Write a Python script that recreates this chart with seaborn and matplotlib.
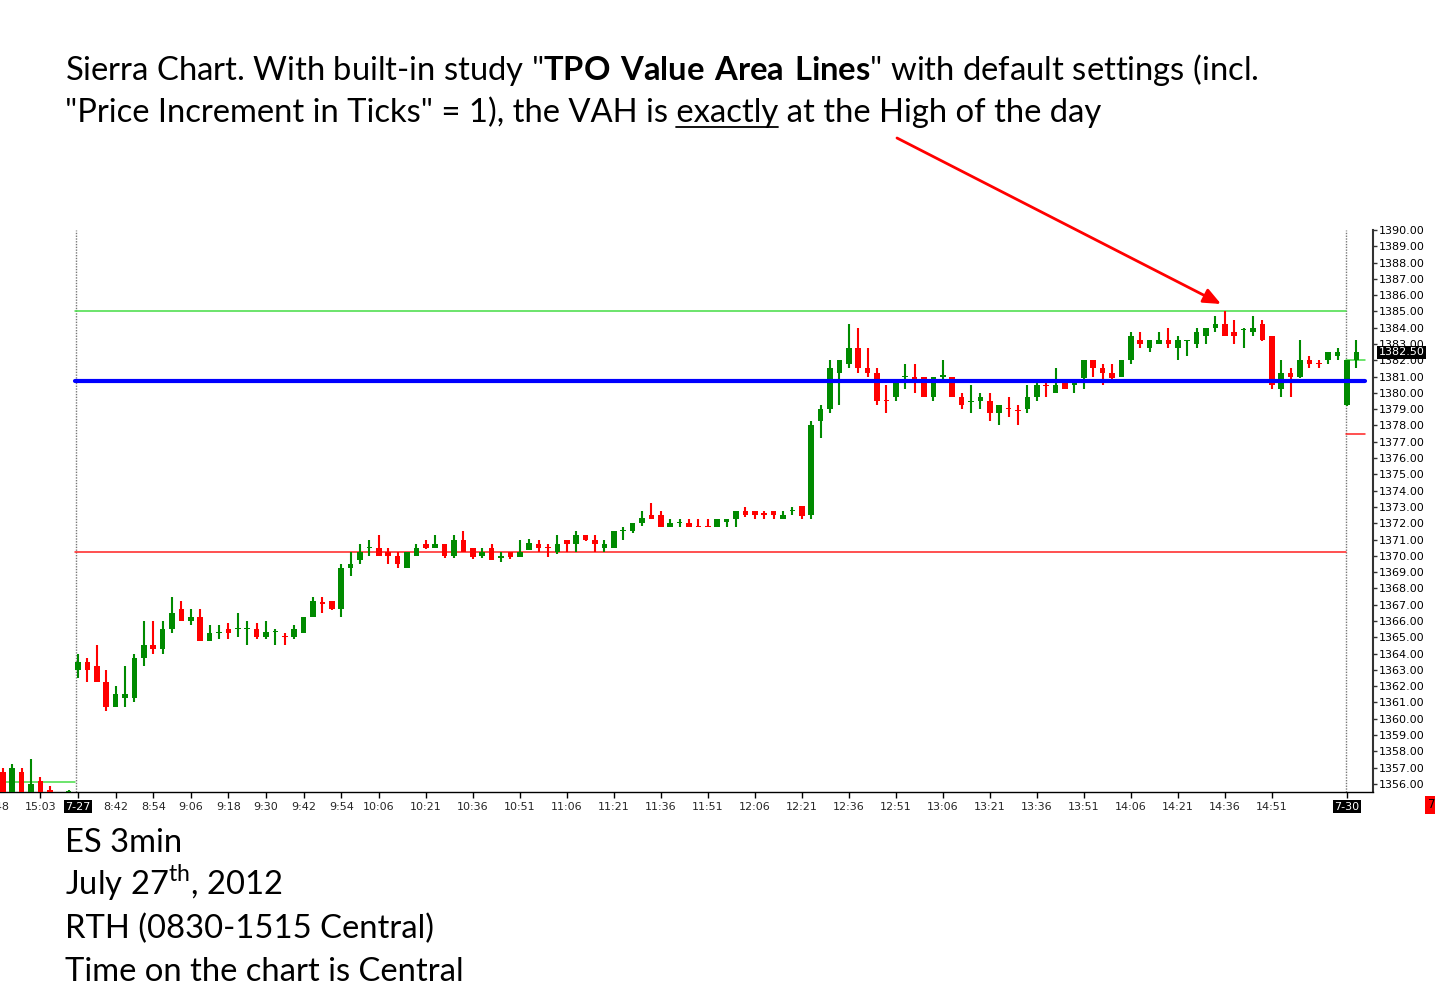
import numpy as np
import pandas as pd
import matplotlib
matplotlib.use("Agg")
import matplotlib.pyplot as plt
from matplotlib.ticker import FormatStrFormatter
from matplotlib.lines import Line2D
import seaborn as sns

# ---------------- data (ES 3-min bars) ----------------
bar_index = [-8, -7, -6, -5, -4, -3, -1] + list(range(0, 137))
opens = [1356.75, 1355.0, 1356.75, 1355.0, 1356.15, 1355.6, 1355.0,
         1363.0, 1363.5, 1363.25, 1362.25, 1360.75, 1361.25, 1361.25, 1363.75, 1364.5, 1364.25,
         1365.5, 1366.75, 1366.0, 1366.25, 1364.75, 1365.25, 1365.5, 1365.5, 1365.5, 1365.5,
         1365.0, 1365.3, 1365.05, 1365.0, 1365.25, 1366.25, 1367.15, 1367.25, 1366.75, 1369.25,
         1369.75, 1370.45, 1370.5, 1370.25, 1370.0, 1369.25, 1370.0, 1370.75, 1370.5, 1370.75,
         1370.0, 1371.0, 1370.5, 1370.0, 1370.5, 1369.85, 1370.25, 1369.95, 1370.35, 1370.75,
         1370.5, 1370.25, 1371.0, 1370.75, 1371.25, 1371.0, 1370.5, 1370.5, 1371.5, 1371.5,
         1372.0, 1372.5, 1372.5, 1371.75, 1372.0, 1372.0, 1371.85, 1371.85, 1371.75, 1372.1,
         1372.25, 1372.75, 1372.75, 1372.6, 1372.75, 1372.25, 1372.75, 1373.05, 1372.5, 1378.25,
         1379.0, 1381.25, 1381.75, 1382.75, 1381.5, 1381.25, 1379.55, 1379.75, 1380.95, 1381.0,
         1381.0, 1379.75, 1381.0, 1381.0, 1379.75, 1379.45, 1379.5, 1379.5, 1378.75, 1379.05,
         1378.95, 1379.0, 1379.75, 1380.5, 1380.0, 1380.75, 1380.5, 1380.9, 1382.0, 1381.5,
         1381.25, 1381.0, 1382.0, 1383.25, 1382.75, 1383.0, 1383.25, 1382.75, 1383.2, 1383.0,
         1383.5, 1384.0, 1384.25, 1383.75, 1383.85, 1383.75, 1384.25, 1383.5, 1380.25, 1381.25,
         1381.0, 1382.0, 1381.85, 1382.0, 1382.25, 1379.25, 1382.0]
highs = [1357.0, 1357.25, 1357.0, 1357.5, 1356.4, 1355.85, 1355.6,
         1364.0, 1363.75, 1364.5, 1363.0, 1362.0, 1363.25, 1364.0, 1366.0, 1366.0, 1366.0,
         1367.5, 1367.25, 1366.75, 1366.75, 1365.75, 1365.75, 1365.9, 1366.5, 1366.0, 1365.9,
         1366.0, 1365.5, 1365.25, 1365.75, 1366.25, 1367.5, 1367.5, 1367.25, 1369.5, 1370.25,
         1370.75, 1371.0, 1371.25, 1370.5, 1370.25, 1370.25, 1370.75, 1371.0, 1371.25, 1370.75,
         1371.25, 1371.5, 1370.5, 1370.5, 1370.75, 1370.25, 1370.25, 1371.0, 1371.05, 1371.0,
         1370.75, 1371.25, 1371.0, 1371.5, 1371.25, 1371.25, 1371.0, 1371.5, 1371.75, 1372.0,
         1372.75, 1373.25, 1372.75, 1372.25, 1372.25, 1372.25, 1372.25, 1372.25, 1372.25, 1372.25,
         1372.75, 1373.0, 1372.75, 1372.75, 1372.75, 1372.75, 1373.0, 1373.05, 1378.25, 1379.25,
         1382.0, 1382.0, 1384.25, 1384.0, 1382.75, 1381.5, 1380.5, 1380.75, 1381.75, 1381.75,
         1381.0, 1381.0, 1382.0, 1381.0, 1380.0, 1380.5, 1380.0, 1380.0, 1379.25, 1379.75,
         1379.25, 1380.5, 1380.75, 1380.75, 1381.5, 1380.75, 1380.75, 1382.0, 1382.0, 1381.75,
         1381.75, 1382.0, 1383.75, 1383.75, 1383.25, 1383.75, 1384.0, 1383.5, 1383.25, 1384.0,
         1384.0, 1384.75, 1385.0, 1384.5, 1384.0, 1384.75, 1384.5, 1383.5, 1382.0, 1381.5,
         1383.25, 1382.25, 1382.0, 1382.5, 1382.75, 1382.0, 1383.25]
lows = [1354.5, 1354.5, 1354.5, 1354.5, 1354.5, 1354.5, 1354.5,
        1362.5, 1362.25, 1362.25, 1360.5, 1360.75, 1360.75, 1361.0, 1363.25, 1364.0, 1364.0,
        1365.25, 1366.0, 1365.75, 1364.75, 1364.75, 1364.9, 1364.9, 1365.0, 1364.5, 1364.9,
        1364.9, 1364.5, 1364.5, 1364.9, 1365.25, 1366.25, 1366.5, 1366.7, 1366.25, 1368.75,
        1369.5, 1370.0, 1370.0, 1369.5, 1369.25, 1369.25, 1370.0, 1370.4, 1370.5, 1369.85,
        1369.85, 1370.25, 1369.8, 1369.85, 1369.75, 1369.6, 1369.8, 1369.9, 1370.35, 1370.25,
        1369.9, 1370.1, 1370.25, 1370.25, 1370.9, 1370.25, 1370.25, 1370.5, 1371.0, 1371.4,
        1371.85, 1372.25, 1371.75, 1371.75, 1371.75, 1371.75, 1371.75, 1371.75, 1371.75, 1371.75,
        1371.75, 1372.4, 1372.25, 1372.25, 1372.25, 1372.25, 1372.5, 1372.25, 1372.25, 1377.25,
        1378.75, 1379.25, 1381.5, 1381.25, 1381.0, 1379.25, 1378.75, 1379.5, 1380.25, 1380.0,
        1379.75, 1379.5, 1380.75, 1379.75, 1379.0, 1378.75, 1379.0, 1378.25, 1378.0, 1378.5,
        1378.0, 1378.75, 1379.5, 1379.75, 1380.0, 1380.25, 1380.0, 1380.25, 1381.0, 1380.5,
        1380.75, 1381.0, 1381.75, 1382.75, 1382.5, 1383.0, 1382.75, 1382.0, 1382.25, 1382.75,
        1383.0, 1383.75, 1383.5, 1383.0, 1382.75, 1383.5, 1383.2, 1380.25, 1379.75, 1379.75,
        1380.9, 1381.5, 1381.5, 1381.75, 1382.0, 1379.2, 1381.5]
closes = [1355.0, 1357.0, 1355.0, 1356.0, 1355.0, 1355.0, 1355.55,
          1363.5, 1363.0, 1362.25, 1360.75, 1361.5, 1361.5, 1363.75, 1364.5, 1364.25, 1365.5,
          1366.5, 1366.0, 1366.25, 1364.75, 1365.25, 1365.3, 1365.25, 1365.55, 1365.55, 1365.0,
          1365.3, 1365.35, 1365.0, 1365.5, 1366.25, 1367.25, 1367.05, 1366.75, 1369.25, 1369.5,
          1370.25, 1370.5, 1370.0, 1370.0, 1369.5, 1370.25, 1370.5, 1370.5, 1370.75, 1370.0,
          1371.0, 1370.25, 1369.95, 1370.25, 1369.75, 1370.0, 1369.95, 1370.25, 1370.8, 1370.5,
          1370.45, 1370.75, 1370.75, 1371.25, 1371.0, 1370.75, 1370.75, 1371.5, 1371.55, 1372.0,
          1372.35, 1372.25, 1371.75, 1372.0, 1372.05, 1371.75, 1371.75, 1371.75, 1372.25, 1372.25,
          1372.75, 1372.5, 1372.5, 1372.5, 1372.5, 1372.5, 1372.8, 1372.45, 1378.0, 1379.0,
          1381.5, 1382.0, 1382.75, 1381.5, 1381.25, 1379.5, 1379.5, 1380.75, 1381.0, 1380.75,
          1379.75, 1381.0, 1381.1, 1379.75, 1379.25, 1379.5, 1379.75, 1378.75, 1379.25, 1379.0,
          1378.9, 1379.75, 1380.5, 1380.4, 1380.5, 1380.25, 1380.6, 1382.0, 1381.5, 1381.25,
          1380.9, 1382.0, 1383.5, 1383.0, 1383.25, 1383.25, 1383.0, 1383.25, 1383.25, 1383.75,
          1384.0, 1384.25, 1383.5, 1383.5, 1383.9, 1384.0, 1383.25, 1380.5, 1381.25, 1381.0,
          1382.0, 1381.75, 1381.75, 1382.5, 1382.5, 1382.0, 1382.5]

xtick_pos = [-4, 0, 4, 8, 12, 16, 20, 24, 28, 32, 37, 42, 47, 52, 57, 62, 67, 72, 77,
             82, 87, 92, 97, 102, 107, 112, 117, 122, 127, 135]
xtick_labels = ['15:03', '7-27', '8:42', '8:54', '9:06', '9:18', '9:30', '9:42', '9:54',
                '10:06', '10:21', '10:36', '10:51', '11:06', '11:21', '11:36', '11:51',
                '12:06', '12:21', '12:36', '12:51', '13:06', '13:21', '13:36', '13:51',
                '14:06', '14:21', '14:36', '14:51', '7-30']
ytick_values = list(range(1356, 1391))

vah_level = 1385.0
poc_level = 1380.75
val_level = 1370.25
prev_vah_level = 1356.1
next_vah_level = 1382.0
next_val_level = 1377.5
last_price = 1382.50

# ---------------- style ----------------
sns.set_style("white")
plt.rcParams['font.family'] = ['DejaVu Sans']
plt.rcParams['mathtext.fontset'] = 'custom'
plt.rcParams['mathtext.rm'] = 'Lato'
plt.rcParams['mathtext.bf'] = 'Lato:bold'

W, H = 1435, 1001
fig = plt.figure(figsize=(W / 100, H / 100), dpi=100)
fig.patch.set_facecolor('white')

ax_top, ax_bot, ax_right = 230, 792, 1373
ax = fig.add_axes([0, 1 - ax_bot / H, ax_right / W, (ax_bot - ax_top) / H])
ax.set_facecolor('white')

px_per_bar = 9.4
x0_px = 78
ax.set_xlim(-x0_px / px_per_bar, (ax_right - x0_px) / px_per_bar)
px_per_pt = 16.34
ax.set_ylim(1385 - (ax_bot - 310) / px_per_pt, 1385 + (310 - ax_top) / px_per_pt)

df = pd.DataFrame({'i': bar_index, 'o': opens, 'h': highs, 'l': lows, 'c': closes})
df['up'] = df['c'] >= df['o']
green, red = '#008a00', '#ff0000'
cols = np.where(df['up'], green, red)

ax.vlines(df['i'], df['l'], df['h'], colors=cols, lw=1.5, zorder=3)
body_bottom = np.minimum(df['o'], df['c'])
body_h = np.maximum((df['c'] - df['o']).abs(), 0.07)
ax.bar(df['i'], body_h, bottom=body_bottom, width=0.6, color=cols, linewidth=0, zorder=4)

# value area lines
first_x = -0.3
day_end_x = 134.9
right_end_x = 136.9
lv = pd.DataFrame({'x': [first_x, day_end_x], 'vah': [vah_level] * 2, 'val': [val_level] * 2})
sns.lineplot(data=lv, x='x', y='vah', color='#44dd44', lw=1.1, ax=ax, zorder=2)
sns.lineplot(data=lv, x='x', y='val', color='#ff2020', lw=1.1, ax=ax, zorder=2)
pl = pd.DataFrame({'x': [first_x, right_end_x], 'poc': [poc_level] * 2})
sns.lineplot(data=pl, x='x', y='poc', color='#0000ff', lw=3.0, ax=ax, zorder=5)
ax.plot([day_end_x, right_end_x], [next_vah_level] * 2, color='#44dd44', lw=1.1, zorder=2)
ax.plot([day_end_x, right_end_x], [next_val_level] * 2, color='#ff2020', lw=1.1, zorder=2)
ax.plot([-8.3, -0.3], [prev_vah_level] * 2, color='#44dd44', lw=1.1, zorder=2)

# session dividers
for xv in (-0.2, 134.9):
    ax.axvline(xv, color='#777777', lw=1, ls=(0, (1, 1)), zorder=1)

ax.set_xlabel('')
ax.set_ylabel('')

# axes styling
for s in ('left', 'top'):
    ax.spines[s].set_visible(False)
ax.spines['right'].set_color('#333333')
ax.spines['right'].set_linewidth(1.5)
ax.spines['bottom'].set_color('black')
ax.spines['bottom'].set_linewidth(1.0)

ax.yaxis.tick_right()
ax.set_yticks(ytick_values)
ax.yaxis.set_major_formatter(FormatStrFormatter('%.2f'))
ax.tick_params(axis='y', which='major', right=True, left=False, length=3, width=1,
               color='#333333', labelsize=8, pad=1.5, labelcolor='black')

ax.set_xticks(xtick_pos)
ax.set_xticklabels(xtick_labels)
ax.tick_params(axis='x', bottom=True, length=4, width=1, color='black', labelsize=8, pad=3)
for lbl in ax.get_xticklabels():
    if lbl.get_text() in ('7-27', '7-30'):
        lbl.set_color('white')
        lbl.set_bbox(dict(boxstyle='square,pad=0.12', fc='black', ec='none'))

ax.annotate('14:48', xy=(-9, 0), xycoords=('data', 'axes fraction'), xytext=(0, -7.5),
            textcoords='offset points', ha='center', va='top', fontsize=8,
            annotation_clip=False)

ax.annotate(f'{last_price:.2f}', xy=(1, last_price), xycoords=('axes fraction', 'data'),
            xytext=(4, 0), textcoords='offset points', ha='left', va='center',
            fontsize=8, color='white', zorder=10, annotation_clip=False,
            bbox=dict(boxstyle='square,pad=0.15', fc='black', ec='none'))

fig.text(1428 / W, 1 - 805 / H, '7', ha='left', va='center', fontsize=8.5, color='black',
         bbox=dict(boxstyle='square,pad=0.25', fc='#ff0000', ec='none'))

# ---------------- annotation texts ----------------
tfont = dict(family=['Lato', 'DejaVu Sans'], fontsize=23.6, color='black')
lx = 65 / W
line1 = 'Sierra Chart. With built-in study "$\\mathbf{TPO\\ Value\\ Area\\ Lines}$" with default settings (incl.'
line2 = '"Price Increment in Ticks" = 1), the VAH is exactly at the High of the day'
fig.text(lx, 1 - 80 / H, line1, va='baseline', ha='left', **tfont)
fig.text(lx, 1 - 122 / H, line2, va='baseline', ha='left', **tfont)

fig.canvas.draw()
r = fig.canvas.get_renderer()
tmp_a = fig.text(lx, 1 - 122 / H, '"Price Increment in Ticks" = 1), the VAH is exactly',
                 va='baseline', ha='left', **tfont)
tmp_b = fig.text(lx, 1 - 122 / H, 'exactly', va='baseline', ha='left', **tfont)
ea = tmp_a.get_window_extent(r)
eb = tmp_b.get_window_extent(r)
x_end = ea.x1
x_start = ea.x1 - eb.width
tmp_a.remove()
tmp_b.remove()
fig.add_artist(Line2D([x_start / W, x_end / W], [1 - 127 / H, 1 - 127 / H],
                      color='black', lw=1.3, transform=fig.transFigure))

bottom_lines = ['ES 3min', 'July 27$^{\\mathrm{th}}$, 2012', 'RTH (0830-1515 Central)',
                'Time on the chart is Central']
for k, s in enumerate(bottom_lines):
    fig.text(lx, 1 - (852 + 43 * k) / H, s, va='baseline', ha='left', **tfont)

ax.annotate('', xy=(1221 / W, 1 - 304 / H), xytext=(897 / W, 1 - 138 / H),
            xycoords='figure fraction', textcoords='figure fraction',
            arrowprops=dict(arrowstyle='-|>,head_length=0.7,head_width=0.3', color='#ff0000',
                            lw=2.0, mutation_scale=15, shrinkA=0, shrinkB=0),
            annotation_clip=False)

fig.savefig('out.png', dpi=100, facecolor='white')
